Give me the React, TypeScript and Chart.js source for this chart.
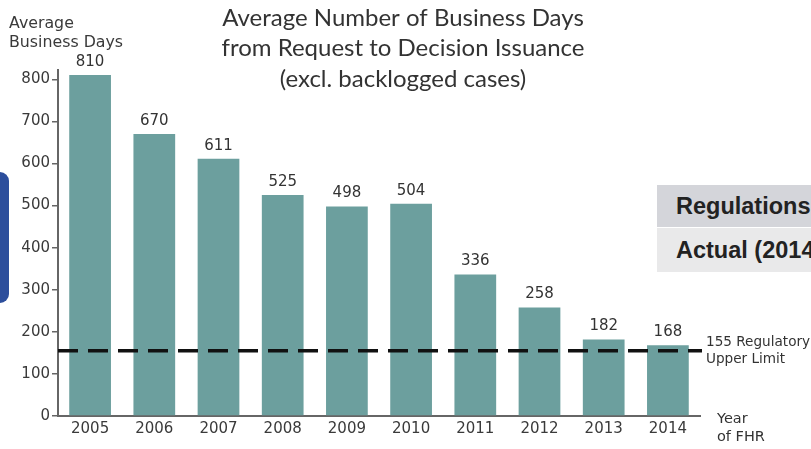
import { useEffect, useRef } from "react";
import { Chart, registerables } from "chart.js";

Chart.register(...registerables);

const categories = ["2005", "2006", "2007", "2008", "2009", "2010", "2011", "2012", "2013", "2014"];
const businessDays = [810, 670, 611, 525, 498, 504, 336, 258, 182, 168];
const yTicks = [0, 100, 200, 300, 400, 500, 600, 700, 800];
const regulatoryLimit = 155;
const titleLines = ["Average Number of Business Days", "from Request to Decision Issuance", "(excl. backlogged cases)"];
const yAxisTitle = ["Average", "Business Days"];
const xAxisTitle = ["Year", "of FHR"];
const limitLabel = ["155 Regulatory", "Upper Limit"];
const sideBoxes = ["Regulations", "Actual (2014"];

const TICK_FONT = "'DejaVu Sans', Verdana, sans-serif";

const annotations = {
  id: "annotations",
  afterDatasetsDraw(chart: any) {
    const { ctx, chartArea, scales } = chart;
    const y = scales.y;
    ctx.save();
    // regulatory limit dashed line
    const ly = y.getPixelForValue(regulatoryLimit);
    ctx.beginPath();
    ctx.setLineDash([20, 10]);
    ctx.lineWidth = 3.5;
    ctx.strokeStyle = "#111";
    ctx.moveTo(chartArea.left, ly);
    ctx.lineTo(chartArea.right + 2, ly);
    ctx.stroke();
    ctx.setLineDash([]);

    // data labels
    const meta = chart.getDatasetMeta(0);
    ctx.fillStyle = "#333";
    ctx.font = `15px ${TICK_FONT}`;
    ctx.textAlign = "center";
    ctx.textBaseline = "middle";
    meta.data.forEach((el: any, i: number) => {
      ctx.fillText(String(businessDays[i]), el.x, el.y - 13);
    });

    // limit label
    ctx.textAlign = "left";
    ctx.font = `13.6px ${TICK_FONT}`;
    ctx.fillText(limitLabel[0], chartArea.right + 6, ly - 8);
    ctx.fillText(limitLabel[1], chartArea.right + 6, ly + 9);

    // x axis title
    ctx.font = `14.5px ${TICK_FONT}`;
    ctx.fillStyle = "#333";
    ctx.fillText(xAxisTitle[0], chartArea.right + 17, chartArea.bottom + 3);
    ctx.fillText(xAxisTitle[1], chartArea.right + 17, chartArea.bottom + 21);

    // y axis title
    ctx.font = `15.8px ${TICK_FONT}`;
    ctx.fillStyle = "#3a3a3a";
    ctx.fillText(yAxisTitle[0], 9, 24);
    ctx.fillText(yAxisTitle[1], 9, 43);

    // chart title
    ctx.font = "24px Lato, 'Open Sans', sans-serif";
    ctx.fillStyle = "#333";
    ctx.textAlign = "center";
    titleLines.forEach((t, i) => ctx.fillText(t, 403, 18 + i * 30.5));
    ctx.restore();
  },
};

export default function App() {
  const canvasRef = useRef<HTMLCanvasElement | null>(null);

  useEffect(() => {
    document.body.style.margin = "0";
    if (!canvasRef.current) return;
    const chart = new Chart(canvasRef.current, {
      type: "bar",
      data: {
        labels: categories,
        datasets: [
          {
            data: businessDays,
            backgroundColor: "#6c9f9e",
            barPercentage: 0.65,
            categoryPercentage: 1,
          },
        ],
      },
      options: {
        animation: false,
        responsive: true,
        maintainAspectRatio: false,
        layout: { padding: { left: 0, top: 70, right: 111, bottom: 0 } },
        plugins: { legend: { display: false }, tooltip: { enabled: false }, title: { display: false } },
        scales: {
          x: {
            grid: { display: false, drawTicks: false, tickLength: 0 },
            border: { color: "#666", width: 2 },
            ticks: { color: "#3a3a3a", padding: 4, font: { family: TICK_FONT, size: 15 } },
            afterFit: (s: any) => {
              s.height = 33;
            },
          },
          y: {
            min: 0,
            max: 822,
            afterBuildTicks: (s: any) => {
              s.ticks = yTicks.map((v) => ({ value: v }));
            },
            grid: { drawOnChartArea: false, tickLength: 6, color: "#666", lineWidth: 1.5 },
            border: { color: "#666", width: 2 },
            ticks: { color: "#3a3a3a", padding: 2, font: { family: TICK_FONT, size: 15 } },
            afterFit: (s: any) => {
              s.width = 58;
            },
          },
        },
      },
      plugins: [annotations],
    });
    return () => chart.destroy();
  }, []);

  return (
    <div style={{ position: "relative", width: 811, height: 449, overflow: "hidden", background: "#fff" }}>
      <canvas ref={canvasRef} />
      <div
        style={{
          position: "absolute",
          left: -10,
          top: 172,
          width: 19,
          height: 131,
          background: "#2c4e9c",
          borderRadius: 9,
        }}
      />
      {sideBoxes.map((t, i) => (
        <div
          key={t}
          style={{
            position: "absolute",
            left: 657,
            top: i === 0 ? 185 : 228,
            width: 170,
            height: i === 0 ? 42 : 44,
            background: i === 0 ? "#d4d5da" : "#e9e9ea",
            fontFamily: "'Liberation Sans', Arial, sans-serif",
            fontWeight: "bold",
            fontSize: 23.5,
            color: "#222",
            lineHeight: i === 0 ? "42px" : "44px",
            paddingLeft: 19,
            boxSizing: "border-box",
            whiteSpace: "nowrap",
          }}
        >
          {t}
        </div>
      ))}
    </div>
  );
}
